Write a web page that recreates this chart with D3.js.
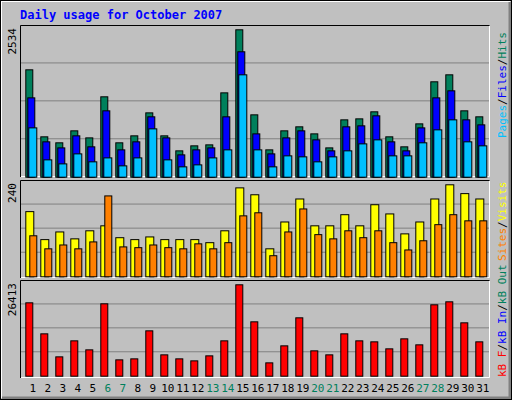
<!DOCTYPE html>
<html><head><meta charset="utf-8">
<script src="https://cdn.jsdelivr.net/npm/d3@7"></script>
<style>body{margin:0;background:#fff}</style>
</head><body><svg id="chart"></svg>
<script>
const days = d3.range(1, 32);
const weekend = [6, 7, 13, 14, 20, 21, 27, 28];
const hits = [1846,694,591,797,676,1382,591,711,1106,711,453,539,556,1450,2534,1072,470,797,866,745,504,986,1003,1124,694,522,917,1640,1760,1141,1038];
const files = [1364,608,504,711,522,1141,470,608,1038,676,384,470,504,1038,2156,745,401,676,797,642,453,866,883,1055,608,453,848,1364,1485,986,900];
const pages = [848,298,229,401,264,332,195,332,831,298,178,212,332,470,1760,470,178,367,350,264,350,453,573,642,367,367,591,814,986,608,539];
const visits = [170,97,117,99,120,133,102,97,104,97,97,97,89,120,232,214,73,143,203,133,133,162,133,188,164,112,143,203,240,217,203];
const sites = [107,73,83,73,91,211,78,76,83,76,73,86,73,89,159,167,55,117,177,110,99,120,102,120,89,70,94,136,162,146,146];
const kbF = [21208,12243,5591,10218,7616,20919,4724,5013,13110,6170,5013,4434,5880,10218,26413,15713,3856,8772,16870,7326,6170,12243,10218,9929,7905,10797,9062,20630,21497,15424,9929];

const W = 512, H = 400;
const svg = d3.select("#chart").attr("width", W).attr("height", H)
    .style("font-family", "'DejaVu Sans Mono', monospace");

// frame
svg.append("rect").attr("width", W).attr("height", H).attr("fill", "#c0c0c0");
svg.append("path").attr("d", `M1,${H-2} L1,1 L${W-2},1`).attr("stroke", "#fff").attr("stroke-width", 2).attr("fill", "none");
svg.append("path").attr("d", `M2,${H-2} L${W-2},${H-2} L${W-2},2`).attr("stroke", "#808080").attr("stroke-width", 3).attr("fill", "none");
svg.append("rect").attr("x", 0.5).attr("y", 0.5).attr("width", W - 1).attr("height", H - 1).attr("fill", "none").attr("stroke", "#000");

svg.append("text").attr("x", 20).attr("y", 19).attr("fill", "#0000ff")
    .style("font-size", "12px").style("font-weight", "bold").text("Daily usage for October 2007");

const x = d3.scaleLinear().domain([1, 31]).range([25.3, 475.3]);

const panels = [
    {top: 25, bottom: 177, base: 176.7, peak: 29.3, max: 2534},
    {top: 180, bottom: 278, base: 276.3, peak: 184.3, max: 240},
    {top: 280, bottom: 378, base: 375.7, peak: 284.3, max: 26413}
];

panels.forEach(p => {
    p.y = d3.scaleLinear().domain([0, p.max]).range([p.base, p.peak]);
    svg.append("path").attr("d", `M20.5,${p.bottom} L20.5,${p.top + .5} L489.5,${p.top + .5}`).attr("stroke", "#000").attr("fill", "none");
    svg.append("path").attr("d", `M21,${p.bottom - .5} L489.5,${p.bottom - .5} L489.5,${p.top + 1}`).attr("stroke", "#fff").attr("fill", "none");
    const step = (p.base - p.top) / 4;
    [1, 2, 3].forEach(i => svg.append("line").attr("x1", 21).attr("x2", 489)
        .attr("y1", p.base - step * i).attr("y2", p.base - step * i).attr("stroke", "#808080"));
    svg.append("text").attr("transform", `translate(16,${p.top + 3}) rotate(-90)`)
        .attr("text-anchor", "end").style("font-size", "11px").text(p.max);
});

function bars(panel, data, dx, w, color) {
    svg.append("g").selectAll("rect").data(data).join("rect")
        .attr("x", (d, i) => x(days[i]) + dx + .5)
        .attr("y", d => panel.y(d) + .5)
        .attr("width", w)
        .attr("height", d => panel.base - panel.y(d))
        .attr("fill", color).attr("stroke", "#000");
}
bars(panels[0], hits, 0, 7, "#00805c");
bars(panels[0], files, 2, 7, "#0000ff");
bars(panels[0], pages, 3, 8, "#00c0ff");
bars(panels[1], visits, 0, 8, "#ffff00");
bars(panels[1], sites, 4, 7, "#ff8000");
bars(panels[2], kbF, 0, 7, "#ff0000");

svg.append("g").selectAll("text").data(days).join("text")
    .attr("x", d => x(d) + 7.5).attr("y", 392).attr("text-anchor", "middle")
    .style("font-size", "11px")
    .attr("fill", d => weekend.includes(d) ? "#00805c" : "#000").text(d => d);

function legend(yBottom, parts) {
    const t = svg.append("text").attr("transform", `translate(506,${yBottom}) rotate(-90)`)
        .style("font-size", "11px");
    parts.forEach(([s, c]) => t.append("tspan").attr("fill", c).text(s));
}
legend(138, [["Pages", "#00c0ff"], ["/", "#000"], ["Files", "#0000ff"], ["/", "#000"], ["Hits", "#00805c"]]);
legend(261, [["Sites", "#ff8000"], ["/", "#000"], ["Visits", "#ffff00"]]);
legend(377, [["kB F", "#ff0000"], ["/", "#000"], ["kB In", "#0000ff"], ["/", "#000"], ["kB Out", "#00805c"]]);
</script></body></html>
